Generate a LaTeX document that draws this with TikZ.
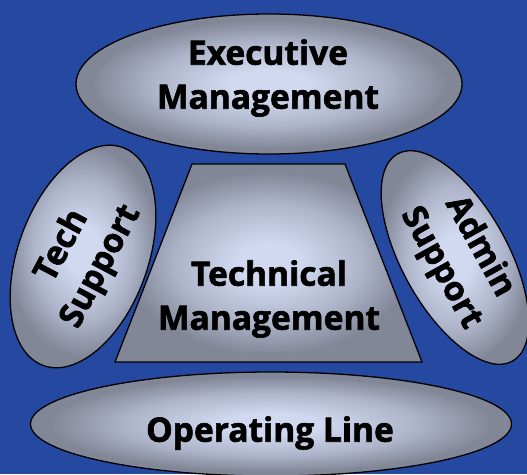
\documentclass[tikz,border=0pt]{standalone}
\usepackage{fontspec}
\setmainfont{Open Sans}[BoldFeatures={FakeBold=1.8}]
\usetikzlibrary{shapes.geometric}
\definecolor{bg}{RGB}{37,72,160}
\definecolor{lite}{RGB}{208,217,240}
\definecolor{mid}{RGB}{174,181,202}
\definecolor{dark}{RGB}{130,135,152}
\pgfdeclareradialshading{blobshade}{\pgfpoint{0bp}{0bp}}{color(0bp)=(lite); color(5bp)=(lite); color(15bp)=(mid); color(23bp)=(dark); color(50bp)=(dark)}
\begin{document}
\begin{tikzpicture}[x=1pt,y=-1pt,
  blob/.style={ellipse, draw=black, line width=1.3pt, shading=blobshade, inner sep=0pt},
  lbl/.style={font=\bfseries\fontsize{33.5}{44}\selectfont, align=center, text=black, inner sep=0pt}]
\fill[bg] (0,0) rectangle (527,474);
\useasboundingbox (0,0) rectangle (527,474);
\begin{scope}
\clip (0,0) rectangle (527,474);
% top
\node[blob, minimum width=386, minimum height=140] (exec) at (269,84) {};
\node[lbl] (execT) at (268,78) {Executive\\Management};
% trapezoid
\coordinate (t1) at (192,164);
\coordinate (t2) at (345,164);
\coordinate (t3) at (422,362);
\coordinate (t4) at (115,362);
\path[shading=blobshade, draw=black, line width=1.3pt] (t1) -- (t2) -- (t3) -- (t4) -- cycle;
\node[lbl] (techT) at (269,299) {Technical\\Management};
% left
\node[blob, minimum width=130, minimum height=232, rotate=-20] (tech) at (83,256.5) {};
\node[lbl, rotate=62] (techL) at ([xshift=-1pt]tech.center) {Tech\\Support};
% right
\node[blob, minimum width=106, minimum height=237, rotate=29] (admin) at (455,257.5) {};
\node[lbl, rotate=-61] (adminL) at ([xshift=5pt]admin.center) {Admin\\Support};
% bottom
\node[blob, minimum width=481, minimum height=104] (op) at (271,424) {};
\node[lbl] (opT) at (270,433) {Operating Line};
\end{scope}
\end{tikzpicture}
\end{document}
